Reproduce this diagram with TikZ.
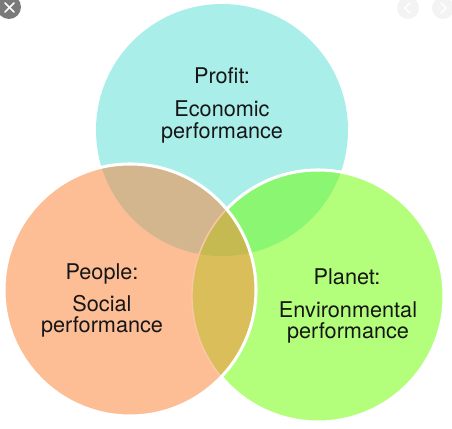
\documentclass[tikz,border=0pt]{standalone}
\usepackage{fontspec}
\setmainfont{TeX Gyre Heros}
\usetikzlibrary{positioning}
\definecolor{tbProfit}{HTML}{AAEEE9}
\definecolor{tbPeople}{HTML}{FDBE96}
\definecolor{tbPlanet}{HTML}{B3FE7B}
\definecolor{tbProfPeop}{HTML}{D3B68D}
\definecolor{tbProfPlan}{HTML}{8AF671}
\definecolor{tbPeopPlan}{HTML}{D9BE5A}
\definecolor{tbAll}{HTML}{C5BA52}
\definecolor{tbSeam}{HTML}{FCC7A6}
\definecolor{tbInk}{HTML}{161616}
\definecolor{tbBtn}{HTML}{7A7A7A}
\definecolor{tbNav}{HTML}{F3F3F3}
\tikzset{
  ring/.style={draw=white, line width=2.6pt},
  seam/.style={draw=tbSeam, line width=1.2pt},
  tbtitle/.style={font=\fontsize{18.5pt}{22pt}\selectfont, text=tbInk, anchor=base, inner sep=0pt},
  tbtext/.style={tbtitle, align=center},
  btnmark/.style={draw=white, line width=1.3pt, line cap=round}
}
\def\rad{3.78cm}

\begin{document}
\begin{tikzpicture}[x=0.03cm, y=-0.03cm]
  \useasboundingbox (0,0) rectangle (452,429);
  \coordinate (cT) at (222,130);
  \coordinate (cL) at (130,290);
  \coordinate (cR) at (318,296);

  % circles and overlaps
  \fill[tbProfit] (cT) circle (\rad);
  \fill[tbPlanet] (cR) circle (\rad);
  \begin{scope}
    \clip (cT) circle (\rad);
    \fill[tbProfPlan] (cR) circle (\rad);
  \end{scope}
  \draw[ring] (cR) circle (\rad);
  \fill[tbPeople] (cL) circle (\rad);
  \begin{scope}
    \clip (cL) circle (\rad);
    \begin{scope}
      \clip (cT) circle (\rad);
      \fill[tbProfPeop] (cL) circle (\rad);
    \end{scope}
    \begin{scope}
      \clip (cR) circle (\rad);
      \fill[tbPeopPlan] (cL) circle (\rad);
      \clip (cT) circle (\rad);
      \fill[tbAll] (cL) circle (\rad);
    \end{scope}
    \draw[seam] (cR) circle (\rad);
  \end{scope}
  \draw[ring] (cL) circle (\rad);

  % labels
  \node[tbtitle] (profit) at (222,84) {Profit:};
  \node[tbtext] (econ) at (222,117) {Economic};
  \node[tbtext, below=0pt of econ.base, anchor=base, yshift=-18.7pt] (econperf) {performance};
  \node[tbtitle] (people) at (102,279) {People:};
  \node[tbtext] (social) at (102,311) {Social};
  \node[tbtext, below=0pt of social.base, anchor=base, yshift=-18.7pt] (socperf) {performance};
  \node[tbtitle] (planet) at (347,284) {Planet:};
  \node[tbtext] (env) at (348,317) {Environmental};
  \node[tbtext, below=0pt of env.base, anchor=base, yshift=-18.7pt] (envperf) {performance};

  % viewer buttons
  \fill[tbBtn] (9,7) circle (0.36cm);
  \draw[btnmark] (5,3) -- (14,12);
  \draw[btnmark] (14,3) -- (5,12);
  \fill[tbNav] (408,8) circle (0.33cm);
  \draw[btnmark] (410,3) -- (405,8) -- (410,13);
  \fill[tbNav] (443,8) circle (0.33cm);
  \draw[btnmark] (441,3) -- (446,8) -- (441,13);
\end{tikzpicture}
\end{document}
